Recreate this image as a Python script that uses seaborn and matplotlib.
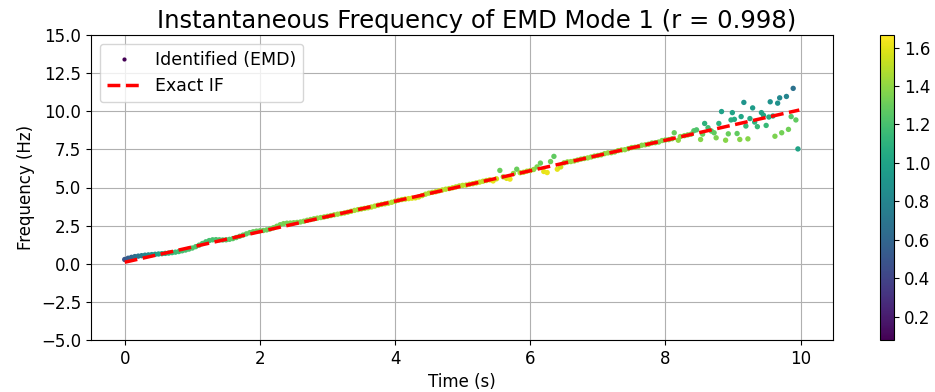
import numpy as np
import pandas as pd
import matplotlib
matplotlib.use("Agg")
import matplotlib.pyplot as plt
from matplotlib.lines import Line2D
import seaborn as sns

# ---------------- data ----------------
time_s = [
    0.00, 0.05, 0.10, 0.15, 0.20, 0.25, 0.30, 0.35, 0.40, 0.45, 0.50,
    0.55, 0.60, 0.65, 0.70, 0.75, 0.80, 0.85, 0.90, 0.95, 1.00,
    1.05, 1.10, 1.15, 1.20, 1.25, 1.30, 1.35, 1.40, 1.45, 1.50,
    1.55, 1.60, 1.65, 1.70, 1.75, 1.80, 1.85, 1.90, 1.95, 2.00,
    2.05, 2.10, 2.15, 2.20, 2.25, 2.30, 2.35, 2.40, 2.45, 2.50,
    2.55, 2.60, 2.65, 2.70, 2.75, 2.80, 2.85, 2.90, 2.95, 3.00,
    3.05, 3.10, 3.15, 3.20, 3.25, 3.30, 3.35, 3.40, 3.45, 3.50,
    3.55, 3.60, 3.65, 3.70, 3.75, 3.80, 3.85, 3.90, 3.95, 4.00,
    4.05, 4.10, 4.15, 4.20, 4.25, 4.30, 4.35, 4.40, 4.45, 4.50,
    4.55, 4.60, 4.65, 4.70, 4.75, 4.80, 4.85, 4.90, 4.95, 5.00,
    5.05, 5.10, 5.15, 5.20, 5.25, 5.30, 5.35, 5.40, 5.45, 5.50,
    5.55, 5.60, 5.65, 5.70, 5.75, 5.80, 5.85, 5.90, 5.95, 6.00,
    6.05, 6.10, 6.15, 6.20, 6.25, 6.30, 6.35, 6.40, 6.45, 6.50,
    6.55, 6.60, 6.65, 6.70, 6.75, 6.80, 6.85, 6.90, 6.95, 7.00,
    7.05, 7.10, 7.15, 7.20, 7.25, 7.30, 7.35, 7.40, 7.45, 7.50,
    7.55, 7.60, 7.65, 7.70, 7.75, 7.80, 7.85, 7.90, 7.95, 8.00,
    8.05, 8.10,
    8.13, 8.19, 8.22, 8.28, 8.33, 8.38, 8.42, 8.46, 8.52, 8.55,
    8.58, 8.63, 8.68, 8.72, 8.75, 8.79, 8.83, 8.89, 8.93, 8.97,
    8.99, 9.02, 9.06, 9.10, 9.12, 9.16, 9.19, 9.22, 9.25, 9.29,
    9.32, 9.36, 9.42, 9.45, 9.49, 9.53, 9.55, 9.59, 9.62, 9.66,
    9.69, 9.72, 9.79, 9.82, 9.86, 9.89, 9.93, 9.96,
]

freq_hz = [
    0.28, 0.36, 0.42, 0.47, 0.50, 0.53, 0.56, 0.58, 0.60, 0.62, 0.64,
    0.66, 0.68, 0.70, 0.73, 0.76, 0.80, 0.85, 0.90, 0.96, 1.03,
    1.12, 1.22, 1.33, 1.44, 1.52, 1.57, 1.58, 1.57, 1.56, 1.57,
    1.60, 1.65, 1.72, 1.80, 1.88, 1.96, 2.04, 2.10, 2.14, 2.16,
    2.18, 2.22, 2.28, 2.36, 2.46, 2.56, 2.63, 2.66, 2.67, 2.69,
    2.71, 2.74, 2.79, 2.85, 2.90, 2.95, 2.99, 3.03, 3.07, 3.11,
    3.16, 3.21, 3.25, 3.29, 3.33, 3.38, 3.44, 3.50, 3.55, 3.59,
    3.63, 3.67, 3.72, 3.78, 3.84, 3.89, 3.93, 3.97, 4.03, 4.10,
    4.16, 4.21, 4.24, 4.27, 4.30, 4.32, 4.38, 4.47, 4.56, 4.63,
    4.68, 4.72, 4.78, 4.84, 4.89, 4.93, 4.98, 5.04, 5.10, 5.14,
    5.16, 5.21, 5.25, 5.30, 5.35, 5.41, 5.46, 5.50, 5.43, 5.57,
    6.12, 5.70, 5.60, 5.55, 5.92, 6.20, 5.97, 6.00, 6.07, 6.11,
    6.18, 6.35, 6.60, 6.05, 5.98, 6.70, 7.04, 6.20, 6.35, 6.62,
    6.68, 6.70, 6.74, 6.80, 6.86, 6.90, 6.94, 7.00, 7.06, 7.10,
    7.14, 7.22, 7.27, 7.28, 7.33, 7.42, 7.46, 7.48, 7.55, 7.62,
    7.64, 7.68, 7.77, 7.80, 7.84, 7.92, 7.94, 7.98, 8.08, 8.12,
    8.14, 8.20,
    8.59, 8.10, 8.34, 8.40, 8.45, 8.50, 8.72, 8.78, 8.15, 8.50,
    9.20, 8.92, 8.70, 8.59, 8.26, 9.20, 9.98, 8.10, 8.52, 9.43,
    9.91, 9.47, 8.54, 8.15, 9.65, 10.58, 9.03, 8.19, 9.52, 10.22,
    9.29, 8.99, 9.91, 9.74, 9.07, 9.62, 10.62, 9.69, 8.36, 10.53,
    10.88, 8.59, 10.97, 8.81, 9.65, 11.50, 9.43, 7.53,
]

amplitude = [
    0.50, 0.55, 0.60, 0.65, 0.70, 0.75, 0.80, 0.85, 0.90, 0.95, 1.00,
    1.04, 1.08, 1.11, 1.14, 1.16, 1.18, 1.19, 1.20, 1.21, 1.22,
    1.22, 1.22, 1.21, 1.20, 1.20, 1.20, 1.21, 1.22, 1.23, 1.24,
    1.25, 1.26, 1.27, 1.27, 1.28, 1.28, 1.29, 1.29, 1.30, 1.30,
    1.31, 1.31, 1.32, 1.32, 1.33, 1.33, 1.34, 1.34, 1.35, 1.35,
    1.36, 1.36, 1.37, 1.37, 1.38, 1.38, 1.39, 1.39, 1.40, 1.40,
    1.41, 1.42, 1.43, 1.44, 1.45, 1.46, 1.46, 1.45, 1.45, 1.46,
    1.47, 1.48, 1.48, 1.47, 1.46, 1.47, 1.48, 1.49, 1.48, 1.47,
    1.48, 1.49, 1.52, 1.55, 1.58, 1.58, 1.55, 1.50, 1.47, 1.48,
    1.50, 1.53, 1.52, 1.49, 1.48, 1.50, 1.52, 1.50, 1.48, 1.50,
    1.50, 1.50, 1.51, 1.52, 1.52, 1.50, 1.50, 1.53, 1.60, 1.55,
    1.30, 1.45, 1.58, 1.62, 1.40, 1.30, 1.45, 1.50, 1.48, 1.46,
    1.40, 1.35, 1.30, 1.60, 1.62, 1.32, 1.28, 1.60, 1.55, 1.42,
    1.40, 1.42, 1.43, 1.42, 1.40, 1.41, 1.42, 1.41, 1.40, 1.40,
    1.40, 1.41, 1.42, 1.40, 1.39, 1.41, 1.42, 1.40, 1.39, 1.40,
    1.41, 1.39, 1.38, 1.39, 1.40, 1.38, 1.37, 1.36, 1.37, 1.36,
    1.35, 1.36,
    1.30, 1.40, 1.38, 1.36, 1.35, 1.33, 1.25, 1.22, 1.38, 1.30,
    1.10, 1.18, 1.25, 1.28, 1.35, 1.10, 0.98, 1.38, 1.30, 1.08,
    1.00, 1.05, 1.28, 1.38, 1.02, 0.90, 1.15, 1.38, 1.05, 0.95,
    1.10, 1.15, 1.00, 1.02, 1.15, 1.05, 0.88, 1.05, 1.35, 0.88,
    0.82, 1.33, 0.80, 1.32, 1.25, 0.68, 1.28, 1.00,
]

exact_t = [0.0, 9.98]
exact_f = [0.10, 10.08]

amp_min, amp_max = 0.08, 1.665

title = "Instantaneous Frequency of EMD Mode 1 (r = 0.998)"
xlabel = "Time (s)"
ylabel = "Frequency (Hz)"
y_limits = (-5, 15)

# ---------------- plot ----------------
plt.rcParams["font.family"] = ["DejaVu Sans"]
plt.rcParams["font.size"] = 12

df = pd.DataFrame({"t": time_s, "f": freq_hz, "a": amplitude})
line_df = pd.DataFrame({"t": exact_t, "f": exact_f})

fig = plt.figure(figsize=(9.35, 3.92), dpi=100)
ax = fig.add_axes([91 / 935, 52 / 392, (833 - 91) / 935, (340 - 35) / 392])
cax = fig.add_axes([880 / 935, 52 / 392, 14 / 935, (340 - 35) / 392])

norm = matplotlib.colors.Normalize(vmin=amp_min, vmax=amp_max)
sns.scatterplot(data=df, x="t", y="f", hue="a", palette="viridis",
                hue_norm=norm, s=15, linewidth=0, legend=False, ax=ax,
                zorder=2)
sns.lineplot(data=line_df, x="t", y="f", color="red", linestyle="--",
             linewidth=2.5, ax=ax, zorder=3)

ax.set_ylim(*y_limits)
ax.set_yticks(np.arange(-5, 15.1, 2.5))
ax.set_xticks([0, 2, 4, 6, 8, 10])
ax.grid(True, color="#b0b0b0", linewidth=0.8)
ax.set_axisbelow(True)
ax.set_xlabel(xlabel)
ax.set_ylabel(ylabel)
ax.set_title(title, fontsize=17.5, pad=5, x=0.52)

handles = [
    Line2D([], [], marker="o", linestyle="none", markersize=3,
           markerfacecolor=plt.cm.viridis(0.0), markeredgewidth=0),
    Line2D([], [], color="red", linestyle="--", linewidth=2.5),
]
ax.legend(handles, ["Identified (EMD)", "Exact IF"], loc="upper left",
          fontsize=12.5)

sm = matplotlib.cm.ScalarMappable(norm=norm, cmap="viridis")
sm.set_array([])
cb = fig.colorbar(sm, cax=cax)
cb.set_ticks([0.2, 0.4, 0.6, 0.8, 1.0, 1.2, 1.4, 1.6])

fig.savefig("out.png", dpi=100)
